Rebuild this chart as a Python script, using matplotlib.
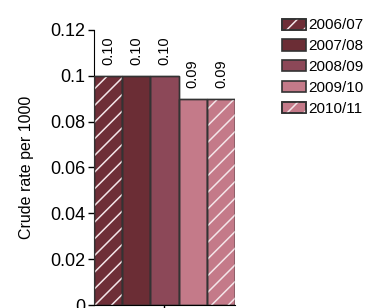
import matplotlib
matplotlib.use("Agg")
import matplotlib.pyplot as plt
from matplotlib.patches import Patch
from matplotlib.legend_handler import HandlerTuple

plt.rcParams['font.family'] = ['Liberation Sans', 'DejaVu Sans']
plt.rcParams['hatch.linewidth'] = 1.1

years = ['2006/07', '2007/08', '2008/09', '2009/10', '2010/11']
rates = [0.10, 0.10, 0.10, 0.09, 0.09]
labels = ['0.10', '0.10', '0.10', '0.09', '0.09']
colors = ['#6e2e37', '#6b2d35', '#8c4858', '#c47a89', '#c47a89']
hatched = [True, False, False, False, True]

fig = plt.figure(figsize=(3.73, 3.08), dpi=100)
ax = fig.add_axes([0.252, 0.0097, 0.378, 0.893])

x = [0, 1, 2, 3, 4]
ax.bar(x, rates, width=1.0, color=colors, edgecolor='#333333', linewidth=1.0, zorder=2)
for xi, r, h in zip(x, rates, hatched):
    if h:
        ax.bar(xi, r, width=1.0, color='none', edgecolor='#f4e6e9', hatch='//', linewidth=0, zorder=3)
# outlines again, on top of the hatch
ax.bar(x, rates, width=1.0, color='none', edgecolor='#333333', linewidth=1.0, zorder=4)

for xi, r, lab in zip(x, rates, labels):
    ax.text(xi, r + 0.0048, lab, rotation=90, ha='center', va='bottom', fontsize=10.5)

ax.set_xlim(-0.5, 4.5)
ax.set_ylim(0, 0.12)
ax.set_yticks([0, 0.02, 0.04, 0.06, 0.08, 0.1, 0.12])
ax.set_yticklabels(['0', '0.02', '0.04', '0.06', '0.08', '0.1', '0.12'], fontsize=13)
ax.set_xticks([2])
ax.set_xticklabels([''])
ax.tick_params(axis='y', length=4, width=1, pad=2)
ax.tick_params(axis='x', length=4, width=1, direction='out')
ax.spines['top'].set_visible(False)
ax.spines['right'].set_visible(False)
ax.set_ylabel('Crude rate per 1000', fontsize=11.5, labelpad=12)

handles = []
for c, h in zip(colors, hatched):
    base = Patch(facecolor=c, edgecolor='#333333', linewidth=1.2)
    if h:
        over = Patch(facecolor='none', edgecolor='#f4e6e9', hatch='//', linewidth=0)
        edge = Patch(facecolor='none', edgecolor='#333333', linewidth=1.2)
        handles.append((base, over, edge))
    else:
        handles.append(base)
leg = fig.legend(handles, years, loc='upper left', bbox_to_anchor=(0.757, 0.94), frameon=False,
                 fontsize=11, handlelength=1.55, handleheight=0.75, labelspacing=0.45,
                 handletextpad=0.15, borderpad=0, borderaxespad=0,
                 handler_map={tuple: HandlerTuple(ndivide=1, pad=0)})

fig.savefig('out.png', dpi=100)
